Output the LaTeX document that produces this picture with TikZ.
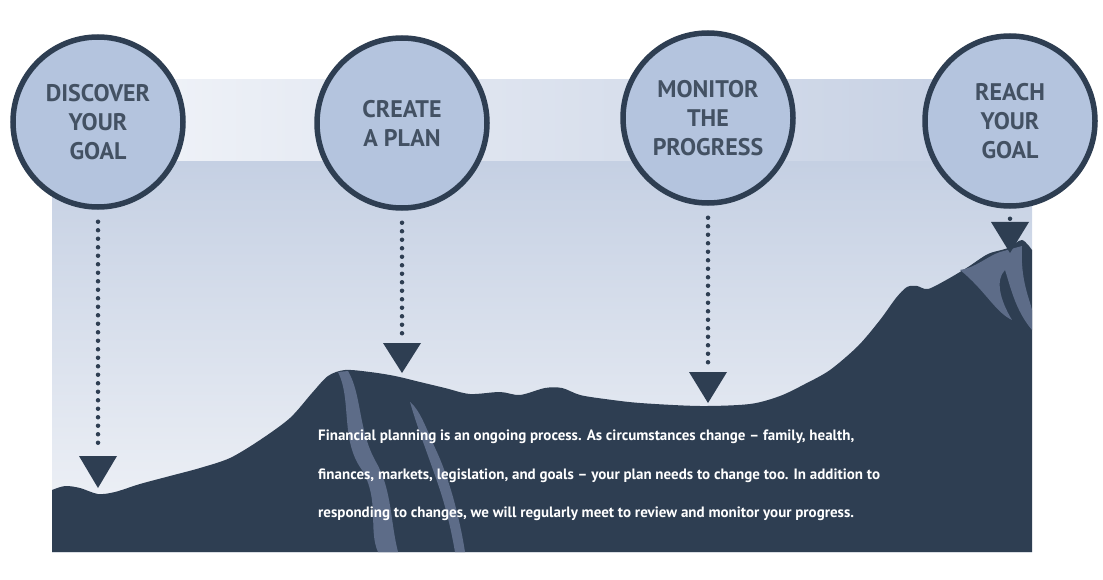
\documentclass[tikz,border=0pt]{standalone}
\usepackage{fontspec}
\setmainfont{PT Sans}
\definecolor{dark}{HTML}{2E3E52}
\definecolor{circ}{HTML}{B4C4DE}
\definecolor{streak}{HTML}{5D6C88}
\definecolor{bandL}{HTML}{F4F6FA}
\definecolor{bandR}{HTML}{C3CEE2}
\definecolor{skyT}{HTML}{C5D0E3}
\definecolor{skyB}{HTML}{F2F4F8}
\begin{document}
\begin{tikzpicture}[x=1pt,y=-1pt,
  stepcirc/.style={circle,draw=dark,line width=5.5pt,fill=circ,minimum size=170pt,inner sep=0pt,
    align=center,font=\bfseries\fontsize{24}{29}\selectfont,text=dark!90},
  dots/.style={dark,line width=4.5pt,line cap=round,dash pattern=on 0pt off 8.5pt},
  tri/.style={fill=dark}]
\useasboundingbox (0,0) rectangle (1103,580);
\shade[left color=bandL,right color=bandR] (52,80) rectangle (1032,162);
\shade[top color=skyT,bottom color=skyB] (52,162) rectangle (1032,552);
% mountain
\fill[dark] plot[smooth,tension=0.5] coordinates{(52,490) (65,486) (80,488) (98,494) (115,492) (140,484) (170,476) (200,468) (230,458) (260,440) (290,418) (312,393) (328,376) (345,370) (370,372) (395,376) (420,382) (445,388) (470,394) (500,392) (520,395) (545,388) (562,388) (580,395) (605,399) (640,403) (700,406) (750,404) (780,396) (805,384) (830,370) (858,346) (880,320) (896,298) (907,287) (917,286) (928,289) (948,279) (968,267) (988,254) (1008,248) (1022,240) (1032,250)} -- (1032,552) -- (52,552) -- cycle;
% streaks
\fill[streak] (338,372) .. controls (352,400) and (340,440) .. (362,470) .. controls (380,500) and (368,530) .. (378,552) -- (398,552) .. controls (390,520) and (392,490) .. (376,462) .. controls (358,430) and (362,395) .. (348,371) -- cycle;
\fill[streak] (410,402) .. controls (418,430) and (430,460) .. (440,490) .. controls (448,515) and (452,535) .. (455,552) -- (465,552) .. controls (460,520) and (450,480) .. (436,450) .. controls (426,428) and (420,410) .. (410,402) -- cycle;
\fill[streak] (960,270) .. controls (975,268) and (988,256) .. (1000,252) -- (1022,246) .. controls (1020,280) and (1030,300) .. (1032,310) -- (1032,330) .. controls (1015,310) and (1010,285) .. (1005,270) .. controls (995,280) and (1000,300) .. (1012,320) .. controls (995,312) and (985,290) .. (960,270) -- cycle;
% circles
\node[stepcirc] (c1) at (98,122) {DISCOVER\\YOUR\\GOAL};
\node[stepcirc] (c2) at (402,123) {CREATE\\A PLAN};
\node[stepcirc] (c3) at (708,118) {MONITOR\\THE\\PROGRESS};
\node[stepcirc] (c4) at (1010,121) {REACH\\YOUR\\GOAL};
% arrows
\coordinate (t1) at (98,456); \coordinate (t2) at (402,343);
\coordinate (t3) at (708,372); \coordinate (t4) at (1010,222);
\draw[dots] ([yshift=-12pt]c1.south) -- ([yshift=6pt]t1);
\draw[dots] ([yshift=-12pt]c2.south) -- ([yshift=6pt]t2);
\draw[dots] ([yshift=-12pt]c3.south) -- ([yshift=6pt]t3);
\draw[dots] ([yshift=-10pt]c4.south) -- ([yshift=4pt]t4);
\fill[dark] ([xshift=-19pt]t1) -- ([xshift=19pt]t1) -- (98,488) -- cycle;
\fill[dark] ([xshift=-19pt]t2) -- ([xshift=19pt]t2) -- (402,373) -- cycle;
\fill[dark] ([xshift=-19pt]t3) -- ([xshift=19pt]t3) -- (708,403) -- cycle;
\fill[dark] ([xshift=-19pt]t4) -- ([xshift=19pt]t4) -- (1010,253) -- cycle;
% text
\node[anchor=north west,text=white,font=\bfseries\fontsize{15}{38.5}\selectfont,align=left,inner sep=0pt] (txt) at (318,430)
{Financial planning is an ongoing process. As circumstances change -- family, health,\\
finances, markets, legislation, and goals -- your plan needs to change too. In addition to\\
responding to changes, we will regularly meet to review and monitor your progress.};
\end{tikzpicture}
\end{document}
